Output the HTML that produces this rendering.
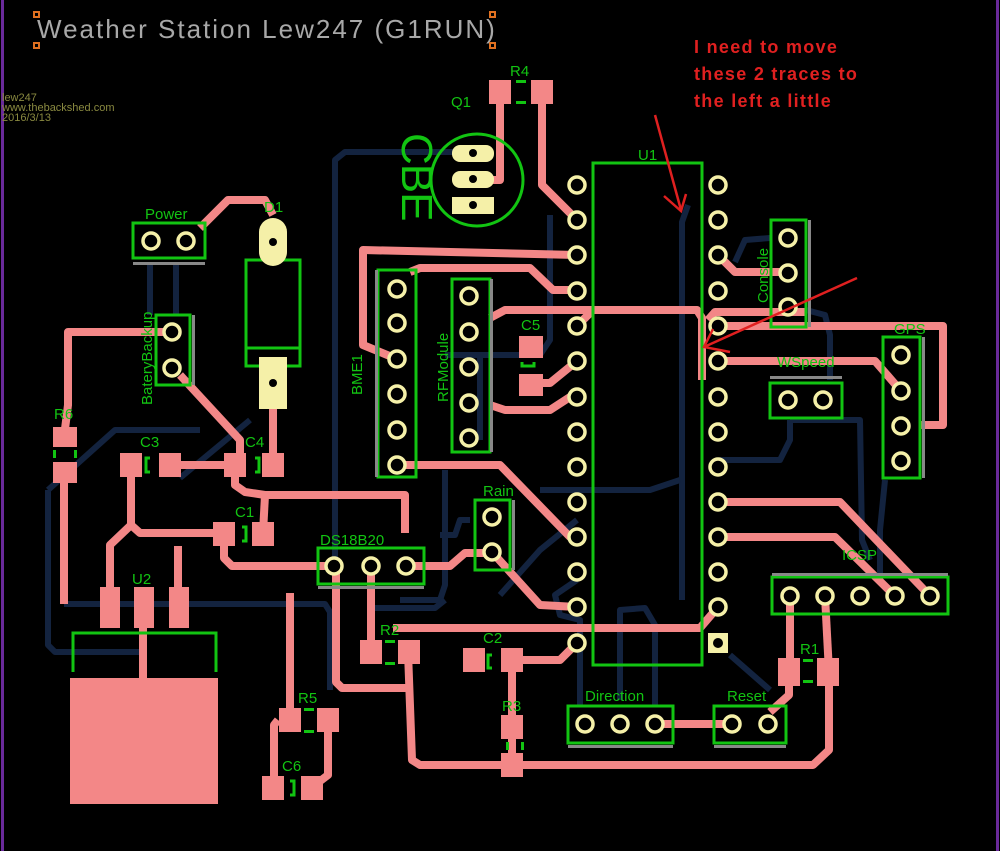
<!DOCTYPE html>
<html><head><meta charset="utf-8"><style>
html,body{margin:0;padding:0;background:#000;}
svg{display:block}
text{font-family:"Liberation Sans",sans-serif}
</style></head><body>
<svg width="1000" height="851" viewBox="0 0 1000 851" xmlns="http://www.w3.org/2000/svg">
<rect width="1000" height="851" fill="#000"/>
<line x1="2.5" y1="0" x2="2.5" y2="851" stroke="#6a2a9a" stroke-width="3"/>
<line x1="997.5" y1="0" x2="997.5" y2="851" stroke="#6a2a9a" stroke-width="3"/>

<!-- blue bottom traces -->
<g fill="none" stroke="#13233f" stroke-width="6" stroke-linejoin="round">
<polyline points="335,610 335,160 345,152 470,152"/>
<polyline points="64,604 325,604 330,612 330,690"/>
<polyline points="48,490 48,645 55,652 143,652"/>
<polyline points="48,490 115,430 200,430"/>
<polyline points="150,262 150,315"/>
<polyline points="176,262 176,315"/>
<polyline points="180,478 250,420"/>
<polyline points="688,205 682,222 682,600"/>
<polyline points="720,460 780,460 790,440 790,420"/>
<polyline points="550,215 550,340 540,355 445,355"/>
<polyline points="480,355 480,440"/>
<polyline points="400,600 440,600 445,585 445,470"/>
<polyline points="370,608 435,608 445,600"/>
<polyline points="540,490 650,490 680,480"/>
<polyline points="500,595 540,550 577,520"/>
<polyline points="577,580 555,595 560,615 580,620 580,705"/>
<polyline points="620,700 620,610 645,608 655,625 655,705"/>
<polyline points="730,655 770,690"/>
<polyline points="790,420 860,420 862,540 870,560"/>
<polyline points="885,480 880,530 880,580"/>
<polyline points="806,310 825,315 830,335 830,380"/>
<polyline points="735,262 745,240 770,238"/>
<polyline points="440,535 455,535 460,520 470,520"/>
</g>

<!-- pink top traces -->
<g fill="none" stroke="#f38787" stroke-width="8" stroke-linejoin="round">
<polyline points="500,92 500,180 482,180"/>
<polyline points="542,92 542,185 577,220"/>
<polyline points="200,228 228,200 265,200 273,215"/>
<polyline points="273,400 273,465"/>
<polyline points="180,375 240,440 240,465"/>
<polyline points="170,465 235,465"/>
<polyline points="172,332 68,332 68,405 64,437"/>
<polyline points="64,470 64,604"/>
<polyline points="131,465 131,525 110,545 110,590"/>
<polyline points="131,525 140,533 224,533"/>
<polyline points="235,465 235,485 245,492 265,495 405,495 405,533"/>
<polyline points="263,533 265,495"/>
<polyline points="224,545 224,558 232,566 334,566"/>
<polyline points="178,590 178,546"/>
<polyline points="143,628 143,680"/>
<polyline points="406,566 450,566 465,553 492,553"/>
<polyline points="336,566 336,682 342,688 408,688"/>
<polyline points="371,566 371,652"/>
<polyline points="408,652 412,760 420,765 813,765 829,750 829,672"/>
<polyline points="393,628 700,628 718,607"/>
<polyline points="512,660 560,660 577,643"/>
<polyline points="512,660 512,765"/>
<polyline points="290,593 290,720"/>
<polyline points="278,720 274,725 274,788"/>
<polyline points="328,720 328,775 311,788"/>
<polyline points="492,552 540,605 577,607"/>
<polyline points="397,465 500,465 570,537 577,537"/>
<polyline points="397,359 363,345 363,250 577,255"/>
<polyline points="410,272 420,268 530,268 553,290 577,290"/>
<polyline points="490,318 505,310 697,310 702,318 702,380"/>
<polyline points="708,320 715,312 805,312"/>
<polyline points="577,326 593,310"/>
<polyline points="718,326 905,326 943,326 943,425 920,425"/>
<polyline points="718,361 875,361 901,391"/>
<polyline points="718,255 735,272 780,272"/>
<polyline points="718,502 840,502 930,596"/>
<polyline points="718,537 835,537 895,596"/>
<polyline points="790,596 790,672"/>
<polyline points="825,596 829,672"/>
<polyline points="789,672 789,695 770,712"/>
<polyline points="655,724 732,724"/>
<polyline points="528,383 550,383 577,361"/>
<polyline points="490,405 505,410 550,410 570,397"/>
</g>

<!-- SMD pads -->
<g fill="#f38787">
<rect x="489" y="80" width="22" height="24"/><rect x="531" y="80" width="22" height="24"/>
<rect x="53" y="427" width="24" height="20"/><rect x="53" y="462" width="24" height="21"/>
<rect x="120" y="453" width="22" height="24"/><rect x="159" y="453" width="22" height="24"/>
<rect x="224" y="453" width="22" height="24"/><rect x="262" y="453" width="22" height="24"/>
<rect x="213" y="522" width="22" height="24"/><rect x="252" y="522" width="22" height="24"/>
<rect x="100" y="587" width="20" height="41"/><rect x="134" y="587" width="20" height="41"/><rect x="169" y="587" width="20" height="41"/>
<rect x="70" y="678" width="148" height="126"/>
<rect x="360" y="640" width="22" height="24"/><rect x="398" y="640" width="22" height="24"/>
<rect x="463" y="648" width="22" height="24"/><rect x="501" y="648" width="22" height="24"/>
<rect x="501" y="715" width="22" height="24"/><rect x="501" y="753" width="22" height="24"/>
<rect x="279" y="708" width="22" height="24"/><rect x="317" y="708" width="22" height="24"/>
<rect x="262" y="776" width="22" height="24"/><rect x="301" y="776" width="22" height="24"/>
<rect x="519" y="336" width="24" height="22"/><rect x="519" y="374" width="24" height="22"/>
<rect x="778" y="658" width="22" height="28"/><rect x="817" y="658" width="22" height="28"/>
</g>

<!-- green silkscreen -->
<g fill="none" stroke="#12c412" stroke-width="3">
<rect x="593" y="163" width="109" height="502"/>
<circle cx="477" cy="180" r="46"/>
<rect x="133" y="223" width="72" height="35"/>
<rect x="246" y="260" width="54" height="106"/><line x1="246" y1="348" x2="300" y2="348"/>
<rect x="156" y="315" width="34" height="70"/>
<rect x="378" y="270" width="38" height="207"/>
<rect x="452" y="279" width="38" height="173"/>
<rect x="475" y="500" width="35" height="70"/>
<rect x="318" y="548" width="106" height="36"/>
<rect x="771" y="220" width="35" height="107"/>
<rect x="883" y="337" width="37" height="141"/>
<rect x="770" y="383" width="72" height="35"/>
<rect x="772" y="577" width="176" height="37"/>
<rect x="568" y="706" width="105" height="37"/>
<rect x="714" y="706" width="72" height="37"/>
<polyline points="73,672 73,633 216,633 216,672"/>
<polyline points="150,458 146,458 146,472 150,472"/>
<polyline points="255,458 259,458 259,472 255,472"/>
<polyline points="242,527 246,527 246,541 242,541"/>
<polyline points="492,655 488,655 488,668 492,668"/>
<polyline points="290,781 294,781 294,795 290,795"/>
<polyline points="522,362 522,366 534,366 534,362"/>
</g>
<g fill="#12c412" stroke="none">
<rect x="53" y="450" width="3" height="8"/><rect x="74" y="450" width="3" height="8"/>
<rect x="385" y="640" width="10" height="3"/><rect x="385" y="662" width="10" height="3"/>
<rect x="304" y="708" width="10" height="3"/><rect x="304" y="730" width="10" height="3"/>
<rect x="506" y="742" width="3" height="8"/><rect x="521" y="742" width="3" height="8"/>
<rect x="516" y="80" width="10" height="3"/><rect x="516" y="101" width="10" height="3"/>
<rect x="803" y="659" width="10" height="3"/><rect x="803" y="680" width="10" height="3"/>
</g>
<g fill="#888" stroke="none">
<rect x="133" y="262" width="72" height="3"/><rect x="192" y="315" width="3" height="70"/>
<rect x="375" y="270" width="3" height="207"/><rect x="490" y="279" width="3" height="173"/>
<rect x="512" y="500" width="3" height="70"/><rect x="318" y="586" width="106" height="3"/>
<rect x="808" y="220" width="3" height="107"/><rect x="922" y="337" width="3" height="141"/>
<rect x="770" y="376" width="72" height="3"/><rect x="772" y="573" width="176" height="3"/>
<rect x="568" y="745" width="105" height="3"/><rect x="714" y="745" width="72" height="3"/>
</g>

<!-- D1 & Q1 pads -->
<g fill="#f5f0a8">
<rect x="259" y="218" width="28" height="48" rx="14"/>
<rect x="259" y="357" width="28" height="52"/>
<rect x="452" y="145" width="42" height="17" rx="8"/>
<rect x="452" y="171" width="42" height="17" rx="8"/>
<rect x="452" y="197" width="42" height="17"/>
<rect x="708" y="633" width="20" height="20"/>
</g>
<g fill="#000"><circle cx="273" cy="242" r="4"/><circle cx="273" cy="383" r="4"/><circle cx="473" cy="153" r="4"/><circle cx="473" cy="179" r="4"/><circle cx="473" cy="205" r="4"/><circle cx="718" cy="643" r="5"/></g>

<!-- through-hole pins -->
<g fill="#000" stroke="#f5f0a8" stroke-width="3.5">
<circle cx="577" cy="185" r="8"/><circle cx="577" cy="220" r="8"/><circle cx="577" cy="255" r="8"/><circle cx="577" cy="291" r="8"/><circle cx="577" cy="326" r="8"/><circle cx="577" cy="361" r="8"/><circle cx="577" cy="397" r="8"/><circle cx="577" cy="432" r="8"/><circle cx="577" cy="467" r="8"/><circle cx="577" cy="502" r="8"/><circle cx="577" cy="537" r="8"/><circle cx="577" cy="572" r="8"/><circle cx="577" cy="607" r="8"/><circle cx="577" cy="643" r="8"/>
<circle cx="718" cy="185" r="8"/><circle cx="718" cy="220" r="8"/><circle cx="718" cy="255" r="8"/><circle cx="718" cy="291" r="8"/><circle cx="718" cy="326" r="8"/><circle cx="718" cy="361" r="8"/><circle cx="718" cy="397" r="8"/><circle cx="718" cy="432" r="8"/><circle cx="718" cy="467" r="8"/><circle cx="718" cy="502" r="8"/><circle cx="718" cy="537" r="8"/><circle cx="718" cy="572" r="8"/><circle cx="718" cy="607" r="8"/>
<circle cx="151" cy="241" r="8"/><circle cx="186" cy="241" r="8"/>
<circle cx="172" cy="332" r="8"/><circle cx="172" cy="368" r="8"/>
<circle cx="397" cy="289" r="8"/><circle cx="397" cy="323" r="8"/><circle cx="397" cy="359" r="8"/><circle cx="397" cy="394" r="8"/><circle cx="397" cy="430" r="8"/><circle cx="397" cy="465" r="8"/>
<circle cx="469" cy="296" r="8"/><circle cx="469" cy="332" r="8"/><circle cx="469" cy="367" r="8"/><circle cx="469" cy="403" r="8"/><circle cx="469" cy="438" r="8"/>
<circle cx="492" cy="517" r="8"/><circle cx="492" cy="552" r="8"/>
<circle cx="334" cy="566" r="8"/><circle cx="371" cy="566" r="8"/><circle cx="406" cy="566" r="8"/>
<circle cx="788" cy="238" r="8"/><circle cx="788" cy="273" r="8"/><circle cx="788" cy="307" r="8"/>
<circle cx="901" cy="355" r="8"/><circle cx="901" cy="391" r="8"/><circle cx="901" cy="426" r="8"/><circle cx="901" cy="461" r="8"/>
<circle cx="788" cy="400" r="8"/><circle cx="823" cy="400" r="8"/>
<circle cx="790" cy="596" r="8"/><circle cx="825" cy="596" r="8"/><circle cx="860" cy="596" r="8"/><circle cx="895" cy="596" r="8"/><circle cx="930" cy="596" r="8"/>
<circle cx="585" cy="724" r="8"/><circle cx="620" cy="724" r="8"/><circle cx="655" cy="724" r="8"/>
<circle cx="732" cy="724" r="8"/><circle cx="768" cy="724" r="8"/>
</g>

<!-- title -->
<text x="37" y="38" fill="#a8a8a8" font-size="26" letter-spacing="2">Weather Station Lew247 (G1RUN)</text>
<g fill="none" stroke="#e07020" stroke-width="2">
<rect x="34" y="12" width="5" height="5"/><rect x="34" y="43" width="5" height="5"/><rect x="490" y="12" width="5" height="5"/><rect x="490" y="43" width="5" height="5"/>
</g>
<g fill="#8a8a40" font-size="11"><text x="2" y="101">lew247</text><text x="2" y="111">www.thebackshed.com</text><text x="2" y="121">2016/3/13</text></g>

<!-- green labels -->
<g fill="#12c412" font-size="15">
<text x="451" y="107">Q1</text><text x="510" y="76">R4</text><text x="638" y="160">U1</text>
<text x="145" y="219">Power</text><text x="264" y="212">D1</text>
<text x="54" y="419">R6</text><text x="140" y="447">C3</text><text x="245" y="447">C4</text><text x="235" y="517">C1</text>
<text x="132" y="584">U2</text><text x="320" y="545">DS18B20</text><text x="380" y="635">R2</text><text x="483" y="643">C2</text>
<text x="502" y="711">R3</text><text x="298" y="703">R5</text><text x="282" y="771">C6</text>
<text x="521" y="330">C5</text><text x="483" y="496">Rain</text><text x="777" y="367">WSpeed</text><text x="894" y="334">GPS</text>
<text x="842" y="560">ICSP</text><text x="800" y="654">R1</text><text x="585" y="701">Direction</text><text x="727" y="701">Reset</text>
<text transform="translate(152,405) rotate(-90)">BateryBackup</text>
<text transform="translate(362,395) rotate(-90)">BME1</text>
<text transform="translate(448,402) rotate(-90)">RFModule</text>
<text transform="translate(768,303) rotate(-90)">Console</text>
<text transform="translate(402,133) rotate(90)" font-size="44" letter-spacing="-1">CBE</text>
</g>

<!-- annotation -->
<g fill="#e02020" font-size="18" font-weight="bold" letter-spacing="1.3">
<text x="694" y="53">I need to move</text><text x="694" y="80">these 2 traces to</text><text x="694" y="107">the left a little</text>
</g>
<g stroke="#e02020" stroke-width="2.5" fill="none">
<line x1="655" y1="115" x2="681" y2="210"/><polyline points="664,196 681,211 686,194"/>
<line x1="857" y1="278" x2="704" y2="347"/><polyline points="713,329 704,347 730,352"/>
</g>
</svg>
</body></html>
